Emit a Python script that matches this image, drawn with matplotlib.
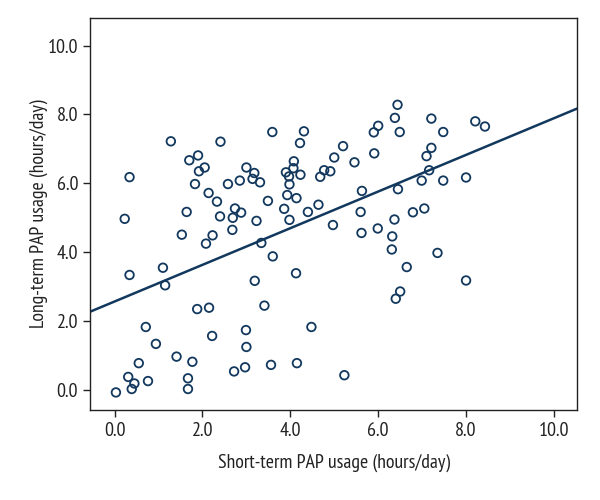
import numpy as np
import matplotlib
matplotlib.use("Agg")
import matplotlib.pyplot as plt

plt.rcParams['font.family'] = ['PT Sans Narrow', 'DejaVu Sans']
plt.rcParams['font.weight'] = 'normal'

# valori (ore/giorno)
short_term = [1.28, 2.41, 0.34, 1.70, 1.90, 1.92, 2.05, 1.83, 2.58, 2.85,
              3.00, 3.18, 3.14, 3.31, 2.14, 2.33, 0.23, 1.64, 2.40, 2.74,
              2.88, 2.69, 3.23, 1.53, 2.23, 2.08, 2.68, 3.34, 1.10, 3.59,
              4.31, 4.22, 4.08, 4.07, 3.90, 3.97, 4.23, 3.98, 3.93, 4.14,
              3.49, 3.86, 3.98, 4.40, 4.64, 3.60, 5.20, 5.00, 4.77, 4.91,
              4.68, 5.46, 4.97, 5.63, 5.60, 5.62, 5.90, 6.00, 5.91, 6.44,
              6.38, 6.49, 6.45, 6.79, 6.37, 5.99, 6.32, 6.31, 6.65, 4.13,
              6.99, 7.21, 8.21, 8.43, 7.48, 7.21, 7.10, 7.16, 7.48, 8.00,
              7.05, 7.35, 6.50, 6.40, 8.00, 3.19, 3.41, 4.48, 3.56, 4.15,
              5.23, 0.34, 1.15, 1.88, 2.15, 0.71, 0.94, 2.22, 2.99, 3.00,
              1.41, 1.77, 0.55, 0.31, 0.45, 0.39, 0.76, 1.67, 1.67, 0.03,
              2.72, 2.97]
long_term = [7.22, 7.21, 6.18, 6.67, 6.81, 6.35, 6.46, 5.98, 5.98, 6.08,
             6.46, 6.30, 6.13, 6.03, 5.72, 5.47, 4.97, 5.17, 5.04, 5.27,
             5.15, 5.00, 4.91, 4.51, 4.49, 4.25, 4.65, 4.27, 3.55, 7.49,
             7.51, 7.17, 6.64, 6.44, 6.32, 6.20, 6.25, 5.97, 5.66, 5.57,
             5.49, 5.26, 4.94, 5.17, 5.38, 3.88, 7.08, 6.75, 6.38, 6.35,
             6.19, 6.61, 4.79, 5.78, 5.17, 4.56, 7.48, 7.67, 6.87, 8.28,
             7.90, 7.49, 5.83, 5.16, 4.95, 4.69, 4.46, 4.08, 3.57, 3.39,
             6.08, 7.88, 7.80, 7.65, 7.49, 7.03, 6.79, 6.38, 6.08, 6.17,
             5.27, 3.98, 2.86, 2.65, 3.18, 3.17, 2.45, 1.83, 0.73, 0.78,
             0.43, 3.34, 3.04, 2.35, 2.39, 1.83, 1.34, 1.57, 1.74, 1.25,
             0.97, 0.82, 0.78, 0.38, 0.19, 0.03, 0.26, 0.34, 0.03, -0.07,
             0.54, 0.66]

# retta di regressione (intercetta, pendenza)
intercetta = 2.57
pendenza = 0.532

tick_valori = [0, 2, 4, 6, 8, 10]
tick_etichette = ['0.0', '2.0', '4.0', '6.0', '8.0', '10.0']

colore = '#12385e'

fig = plt.figure(figsize=(6, 5), dpi=100)
ax = fig.add_axes([0.15, 0.18, 0.812, 0.784])

ax.scatter(short_term, long_term, s=38, facecolors='none',
           edgecolors=colore, linewidths=1.3, zorder=3)

xlim = (-0.56, 10.53)
xs = np.array(xlim)
ax.plot(xs, intercetta + pendenza * xs, color=colore, linewidth=1.8, zorder=2)

ax.set_xlim(xlim)
ax.set_ylim(-0.58, 10.8)
ax.set_xticks(tick_valori)
ax.set_xticklabels(tick_etichette)
ax.set_yticks(tick_valori)
ax.set_yticklabels(tick_etichette)
ax.tick_params(labelsize=14.5, length=5, width=1, color='#222222',
               labelcolor='#222222')

for s in ax.spines.values():
    s.set_color('#222222')
    s.set_linewidth(1)

ax.set_xlabel('Short-term PAP usage (hours/day)', fontsize=14.3, color='#222222', labelpad=10)
ax.set_ylabel('Long-term PAP usage (hours/day)', fontsize=14.3, color='#222222', labelpad=0)

fig.savefig('out.png', dpi=100)
